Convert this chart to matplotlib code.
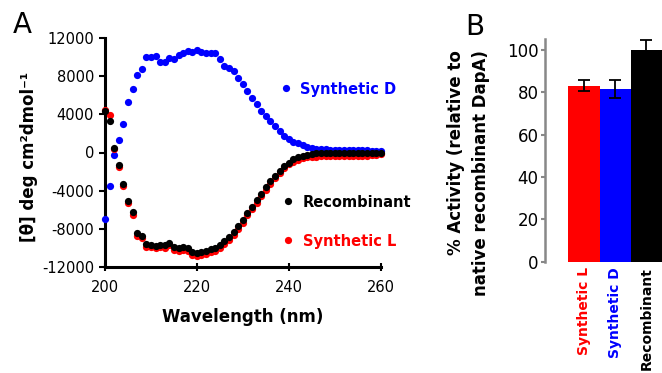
import matplotlib
matplotlib.use("Agg")
import matplotlib.pyplot as plt

plt.rcParams['font.family'] = ['DejaVu Sans']
plt.rcParams['axes.unicode_minus'] = False

wavelength = list(range(200, 261))

synthetic_d = [-7000, -3500, -250, 1350, 3000, 5300, 6700, 8100, 8700, 10000,
               10000, 10150, 9450, 9450, 9950, 9750, 10250, 10400, 10600, 10550,
               10700, 10550, 10450, 10400, 10400, 9800, 9100, 8900, 8500, 7850,
               7200, 6400, 5750, 5100, 4400, 3800, 3250, 2750, 2250, 1750,
               1400, 1100, 950, 750, 550, 420, 380, 340, 320, 300,
               290, 280, 270, 260, 250, 240, 230, 220, 200, 180, 150]

recombinant = [4400, 3300, 500, -1300, -3250, -5050, -6200, -8400, -8700, -9600,
               -9700, -9750, -9700, -9700, -9450, -9950, -10000, -9950, -10050, -10400,
               -10550, -10400, -10300, -10150, -10000, -9700, -9250, -8850, -8300, -7700,
               -7100, -6300, -5700, -5000, -4300, -3650, -3000, -2450, -1900, -1450,
               -1050, -700, -480, -330, -220, -150, -100, -80, -60, -50,
               -40, -30, -30, -20, -20, -10, -10, 0, 0, 0, 0]

synthetic_l = [4500, 3900, 350, -1500, -3500, -5300, -6500, -8700, -9000, -9900,
               -9950, -10000, -9950, -10000, -9700, -10250, -10300, -10200, -10350, -10700,
               -10850, -10750, -10600, -10450, -10300, -10000, -9550, -9150, -8600, -8000,
               -7400, -6600, -5950, -5250, -4550, -3900, -3250, -2650, -2100, -1650,
               -1250, -950, -750, -600, -500, -450, -420, -400, -380, -380,
               -370, -360, -360, -350, -350, -340, -330, -320, -300, -250, -150]

bar_labels = ["Synthetic L", "Synthetic D", "Recombinant"]
bar_values = [83, 81.6, 100]
bar_errors = [2.6, 4.4, 4.9]
bar_colors = ["#ff0000", "#0000ff", "#000000"]

W, H = 662, 373
fig = plt.figure(figsize=(W / 100, H / 100), dpi=100)

# ---- Panel A ----
axL, axR, axB, axT = 105, 380.7, 267, 38
ax = fig.add_axes([axL / W, 1 - axB / H, (axR - axL) / W, (axB - axT) / H])
ms = 27
ax.scatter(wavelength, synthetic_d, s=ms, color="#0000ff", linewidths=0, clip_on=False, zorder=3)
ax.scatter(wavelength, synthetic_l, s=ms, color="#ff0000", linewidths=0, clip_on=False, zorder=4)
ax.scatter(wavelength, recombinant, s=ms, color="#000000", linewidths=0, clip_on=False, zorder=5)
ax.set_xlim(200, 260)
ax.set_ylim(-12000, 12000)
ax.set_xticks([200, 220, 240, 260])
ax.set_yticks(list(range(-12000, 12001, 4000)))
for s in ["top", "right"]:
    ax.spines[s].set_visible(False)
for s in ["left", "bottom"]:
    ax.spines[s].set_linewidth(2.2)
ax.tick_params(axis="y", direction="out", length=4, width=1.5, pad=4, labelsize=10.5)
ax.tick_params(axis="x", direction="inout", length=6, width=1.5, pad=6, labelsize=10.5)
ax.set_xlabel("Wavelength (nm)", fontsize=12, fontweight="bold", labelpad=10)
fig.text(29.5 / W, 1 - 157 / H, "[θ] deg cm²dmol⁻¹", rotation=90, ha="center", va="center",
         fontsize=12, fontweight="bold")

def ax_xy(px, py):
    return ((px - axL) / (axR - axL), (axB - py) / (axB - axT))

legend_items = [("Synthetic D", "#0000ff", 286, 300, 87.7),
                ("Recombinant", "#000000", 288.3, 302.7, 201),
                ("Synthetic L", "#ff0000", 288.3, 302.7, 240)]
for label, col, mx, tx, ty in legend_items:
    x0, y0 = ax_xy(mx, ty)
    ax.plot([x0], [y0], "o", color=col, markersize=5.2, markeredgewidth=0,
            transform=ax.transAxes, clip_on=False)
    x1, _ = ax_xy(tx, ty)
    ax.text(x1, y0, label, color=col, fontsize=10.5, fontweight="bold",
            ha="left", va="center_baseline", transform=ax.transAxes)

fig.text(13 / W, 1 - 33 / H, "A", fontsize=20, ha="left", va="baseline")
fig.text(465 / W, 1 - 35 / H, "B", fontsize=20, ha="left", va="baseline")

# ---- Panel B ----
bL, bR, bB, bT = 545, 662, 261.7, 39.3
bx = fig.add_axes([bL / W, 1 - bB / H, (bR - bL) / W, (bB - bT) / H])
pos = list(range(len(bar_values)))
bx.bar(pos, bar_values, width=1.0, color=bar_colors, linewidth=0)
bx.errorbar(pos, bar_values, yerr=bar_errors, fmt="none", ecolor="black",
            elinewidth=1.3, capsize=4, capthick=1.3)
bx.set_xlim(-1.247, 2.5)
bx.set_ylim(0, 105)
bx.set_yticks([0, 20, 40, 60, 80, 100])
for s in ["top", "right", "bottom"]:
    bx.spines[s].set_visible(False)
bx.spines["left"].set_color("#888888")
bx.spines["left"].set_linewidth(1.8)
bx.tick_params(axis="y", direction="out", length=3, width=1.5, color="#888888",
               pad=1.5, labelsize=12)
bx.set_xticks(pos)
bx.set_xticklabels(bar_labels, rotation=90, fontsize=10, fontweight="bold")
bx.tick_params(axis="x", length=0, pad=4)
for lbl, col in zip(bx.get_xticklabels(), bar_colors):
    lbl.set_color(col)
fig.text(468.5 / W, 1 - 50 / H, "% Activity (relative to\nnative recombinant DapA)",
         rotation=90, ha="center", va="top", multialignment="right",
         fontsize=12, fontweight="bold", linespacing=1.55)

fig.savefig("out.png", dpi=100)
